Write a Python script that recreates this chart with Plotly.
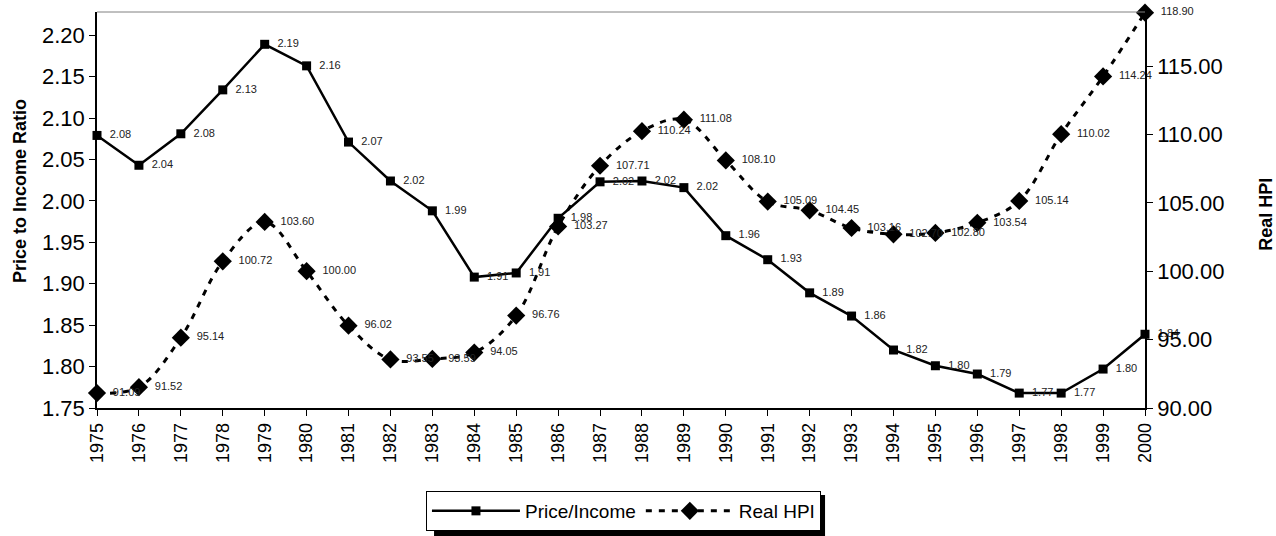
import plotly.graph_objects as go

years = list(range(1975, 2001))
price_income = [2.079, 2.043, 2.081, 2.134, 2.189, 2.163, 2.071, 2.024, 1.988, 1.908,
                1.913, 1.979, 2.023, 2.024, 2.016, 1.958, 1.929, 1.889, 1.861, 1.820,
                1.801, 1.791, 1.768, 1.768, 1.797, 1.839]
real_hpi = [91.09, 91.52, 95.14, 100.72, 103.60, 100.00, 96.02, 93.55, 93.59, 94.05,
            96.76, 103.27, 107.71, 110.24, 111.08, 108.10, 105.09, 104.45, 103.16, 102.70,
            102.80, 103.54, 105.14, 110.02, 114.24, 118.90]

left_ticks = [1.75, 1.80, 1.85, 1.90, 1.95, 2.00, 2.05, 2.10, 2.15, 2.20]
right_ticks = [90, 95, 100, 105, 110, 115]

FONT = "Liberation Sans, Arial, sans-serif"
PAD = "\u00a0\u00a0"

fig = go.Figure()
fig.add_trace(go.Scatter(
    x=years, y=price_income, name="Price/Income", mode="lines+markers+text",
    line=dict(color="black", width=2.5),
    marker=dict(symbol="square", size=9, color="black"),
    text=[f"{PAD}{v:.2f}" for v in price_income], textposition="middle right",
    textfont=dict(size=11, color="#222", family=FONT),
    cliponaxis=False, yaxis="y",
))
fig.add_trace(go.Scatter(
    x=years, y=real_hpi, name="Real HPI", mode="lines+markers+text",
    line=dict(color="black", width=3, dash="6px,7px", shape="spline", smoothing=1),
    marker=dict(symbol="diamond", size=14, color="black"),
    text=[f"{PAD}{v:.2f}" for v in real_hpi], textposition="middle right",
    textfont=dict(size=11, color="#222", family=FONT),
    cliponaxis=False, yaxis="y2",
))

fig.update_layout(
    width=1276, height=536,
    margin=dict(l=97, r=131, t=12, b=128),
    paper_bgcolor="white", plot_bgcolor="white",
    font=dict(family=FONT, color="black"),
    showlegend=True,
    legend=dict(orientation="h", xref="container", yref="container",
                x=0.4886, y=1 - 491 / 536, xanchor="center", yanchor="top",
                bordercolor="black", borderwidth=1, bgcolor="white",
                itemwidth=88,
                font=dict(size=19, family=FONT)),
    xaxis=dict(range=[1975, 2000], tickmode="array", tickvals=years,
               ticktext=[str(y) for y in years], tickangle=-90,
               tickfont=dict(size=18), showgrid=False, zeroline=False,
               showline=True, linecolor="black", linewidth=1.5, automargin=False,
               ticks="outside", ticklen=6, tickcolor="black"),
    yaxis=dict(range=[1.75, 2.228], tickvals=left_ticks,
               ticktext=[f"{v:.2f}" for v in left_ticks], tickfont=dict(size=22),
               showgrid=False, zeroline=False, showline=True, linecolor="black",
               linewidth=1.5, ticks="outside", ticklen=6, tickcolor="black",
               automargin=False),
    yaxis2=dict(range=[90, 118.95], tickvals=right_ticks,
                ticktext=[f"{v:.2f}" for v in right_ticks], tickfont=dict(size=22),
                overlaying="y", side="right", showgrid=False, zeroline=False,
                showline=True, linecolor="black", linewidth=1.5, automargin=False,
                ticks="outside", ticklen=6, tickcolor="black"),
    shapes=[
        dict(type="line", xref="paper", yref="paper", x0=0, x1=1, y0=1, y1=1,
             line=dict(color="#808080", width=1)),
        # legend drop shadow
        dict(type="rect", xref="paper", yref="paper", x0=0.3216, x1=0.6947,
             y0=-0.2197, y1=-0.3232, fillcolor="black", line=dict(width=0)),
    ],
    annotations=[
        dict(text="<b>Price to Income Ratio</b>", xref="paper", yref="paper",
             x=-0.0735, y=0.548, textangle=-90, showarrow=False,
             xanchor="center", yanchor="middle", font=dict(size=18)),
        dict(text="<b>Real HPI</b>", xref="paper", yref="paper",
             x=1.1155, y=0.488, textangle=-90, showarrow=False,
             xanchor="center", yanchor="middle", font=dict(size=18)),
    ],
)

fig.write_html("out.html", config={"displayModeBar": False},
               post_script="document.body.style.margin='0';")
